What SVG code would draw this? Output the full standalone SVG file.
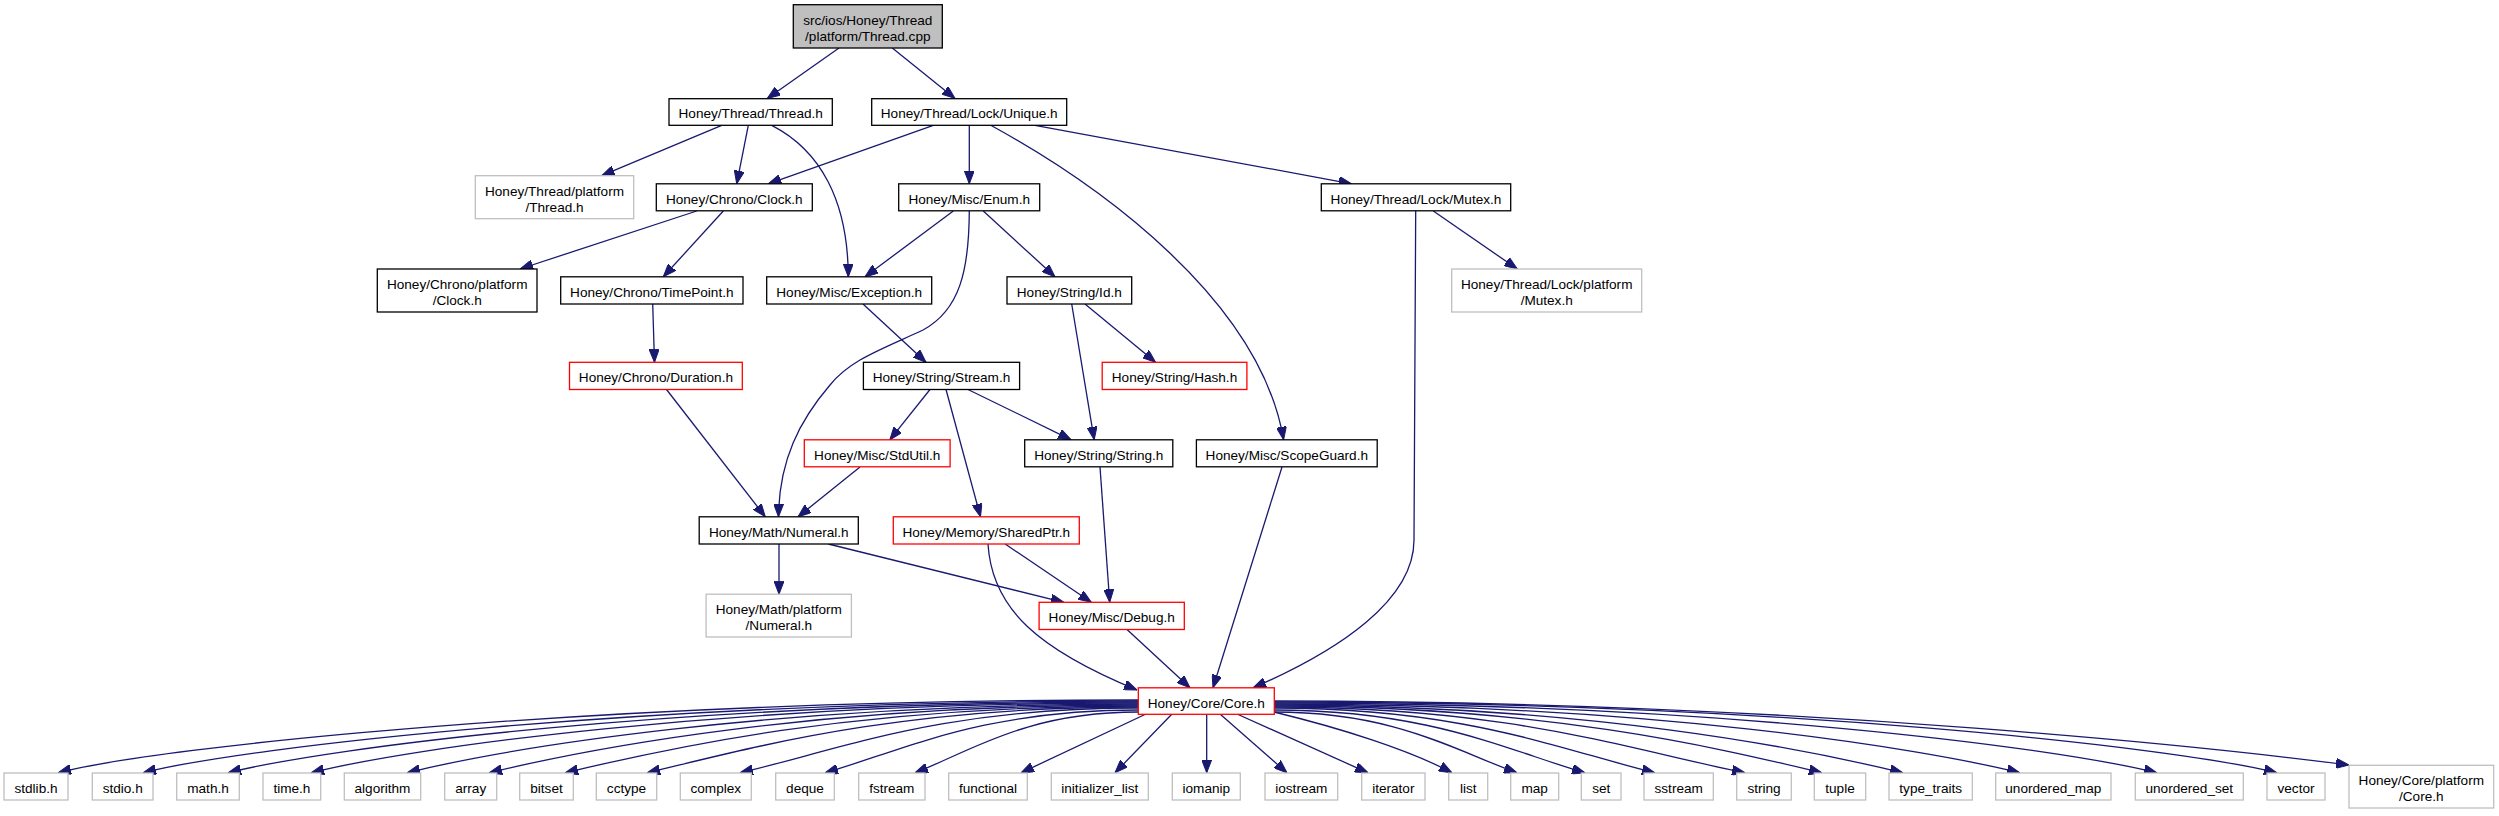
<svg xmlns="http://www.w3.org/2000/svg" width="2499" height="816" viewBox="0 0 2499 816">
<style>
text{font-family:"Liberation Sans",Arial,Helvetica,sans-serif;font-size:13.6px;text-anchor:middle;fill:#000}
.n rect{fill:#fff;stroke:#000;stroke-width:1.3}
.r rect{stroke:#ff0000}
.g rect{stroke:#bfbfbf}
.root rect{fill:#bfbfbf}
#edges path{fill:none;stroke:#191970;stroke-width:1.3;marker-end:url(#ah)}
</style>
<defs>
<marker id="ah" markerUnits="userSpaceOnUse" markerWidth="13" markerHeight="10" viewBox="0 0 13 10" refX="13" refY="5" orient="auto"><path d="M0,0 L13,5 L0,10 z" fill="#191970" stroke="#191970" stroke-width="1"/></marker>
</defs>
<rect width="2499" height="816" fill="#fff"/>
<g id="edges">
<path d="M839,48 L767.3,98.5"/>
<path d="M892.3,48 L955,98.5"/>
<path d="M721.7,125.3 L601.7,175.7"/>
<path d="M748.3,125.3 L736.7,183.8"/>
<path d="M771.7,125.3 C820,150 848,200 848.3,276.8"/>
<path d="M933.3,125.3 L768.3,183.8"/>
<path d="M969.3,125.3 L969.3,183.8"/>
<path d="M990.7,125.3 C1100,185 1260,300 1283.6,439.8"/>
<path d="M1035,125.3 L1351.7,183.8"/>
<path d="M696.7,211 L520,269"/>
<path d="M723.3,211 L663.3,276.8"/>
<path d="M953.3,211 L865,276.8"/>
<path d="M983.3,211 L1055,276.8"/>
<path d="M969.3,211 C969,270 960,310 923,330 C880,350 850,360 830,385 C800,420 779,460 778.5,516.8"/>
<path d="M863,304 L926,362.3"/>
<path d="M1071.7,304 L1094.2,439.8"/>
<path d="M1085,304 L1155.6,362.3"/>
<path d="M652.7,304 L654.5,362.3"/>
<path d="M666.5,389.5 L765.3,516.8"/>
<path d="M930,389.5 L889.8,439.8"/>
<path d="M946,389.5 L980.5,516.8"/>
<path d="M968,389.5 L1071.2,439.8"/>
<path d="M860,467 L798,516.8"/>
<path d="M779,544 L779,594.2"/>
<path d="M828.4,544 L1063.8,602.3"/>
<path d="M1005.2,544 L1091.3,602.3"/>
<path d="M988,544 C992,610 1040,650 1137,690"/>
<path d="M1100,467 L1109.7,602.3"/>
<path d="M1127,629.5 L1190,687.8"/>
<path d="M1282,467 L1213,687.8"/>
<path d="M1415.7,211 L1414,540 C1414,600 1340,650 1253.2,687.8"/>
<path d="M1433.3,211 L1517.3,269"/>
<path d="M1138,700 C598,700 158,746.8 58,772.8"/>
<path d="M1138,701 C640.5,701 243,747.2 143,772.8"/>
<path d="M1138,702 C683,702 328,747.5 228,772.8"/>
<path d="M1138,703 C724.5,703 411,747.9 311,772.8"/>
<path d="M1138,704 C772.5,704 507,748.2 407,772.8"/>
<path d="M1138,705 C813.5,705 589,748.6 489,772.8"/>
<path d="M1138,706 C851.5,706 665,748.9 565,772.8"/>
<path d="M1138,707 C892.5,707 747,749.3 647,772.8"/>
<path d="M1138,708 C939,708 840,749.6 740,772.8"/>
<path d="M1138,710 C981.5,710 903.3,750.3 825,772.8"/>
<path d="M1138,712 C1026.5,712 970.8,751 915,772.8"/>
<path d="M1146,714 L1021,772.8"/>
<path d="M1172,714 L1115,772.8"/>
<path d="M1206.7,714 L1206.7,772.8"/>
<path d="M1220,714 L1287,772.8"/>
<path d="M1237,714 L1368,772.8"/>
<path d="M1274,712 C1340,728 1410,750 1452,772.8"/>
<path d="M1274,712 C1395.5,712 1456.3,751 1517,772.8"/>
<path d="M1274,710 C1429.5,710 1507.3,750.3 1585,772.8"/>
<path d="M1274,708 C1464.5,708 1559.8,749.6 1655,772.8"/>
<path d="M1274,707 C1509.5,707 1627.3,749.3 1745,772.8"/>
<path d="M1274,706 C1548,706 1722,748.9 1822,772.8"/>
<path d="M1274,705 C1588.5,705 1803,748.6 1903,772.8"/>
<path d="M1274,704 C1647,704 1920,748.2 2020,772.8"/>
<path d="M1274,703 C1715.5,703 2057,747.9 2157,772.8"/>
<path d="M1274,702 C1775.5,702 2177,747.5 2277,772.8"/>
<path d="M1274,701 C1811,701 2248,752 2349,765"/>
</g>
<g id="n_root" class="n root"><rect x="793.3" y="4.7" width="149" height="43.3"/><text x="867.8" y="24.5">src/ios/Honey/Thread</text><text x="867.8" y="40.5">/platform/Thread.cpp</text></g>
<g id="n_thread" class="n"><rect x="669" y="98.7" width="163.3" height="26.6"/><text x="750.7" y="118.3">Honey/Thread/Thread.h</text></g>
<g id="n_unique" class="n"><rect x="871.7" y="98.7" width="195" height="26.6"/><text x="969.2" y="118.3">Honey/Thread/Lock/Unique.h</text></g>
<g id="n_pthread" class="n g"><rect x="475.3" y="175.7" width="158.4" height="43"/><text x="554.5" y="195.5">Honey/Thread/platform</text><text x="554.5" y="211.5">/Thread.h</text></g>
<g id="n_clock" class="n"><rect x="656.3" y="183.8" width="156" height="27"/><text x="734.3" y="203.5">Honey/Chrono/Clock.h</text></g>
<g id="n_enum" class="n"><rect x="898.7" y="183.8" width="141" height="27"/><text x="969.2" y="203.5">Honey/Misc/Enum.h</text></g>
<g id="n_mutex" class="n"><rect x="1321.3" y="183.8" width="189.4" height="27"/><text x="1416" y="203.5">Honey/Thread/Lock/Mutex.h</text></g>
<g id="n_pclock" class="n"><rect x="377.3" y="269" width="159.7" height="43"/><text x="457.2" y="288.5">Honey/Chrono/platform</text><text x="457.2" y="304.5">/Clock.h</text></g>
<g id="n_timepoint" class="n"><rect x="560.7" y="276.8" width="182.3" height="27.2"/><text x="651.8" y="296.5">Honey/Chrono/TimePoint.h</text></g>
<g id="n_exception" class="n"><rect x="766.7" y="276.8" width="165" height="27.2"/><text x="849.2" y="296.5">Honey/Misc/Exception.h</text></g>
<g id="n_id" class="n"><rect x="1007" y="276.8" width="124.7" height="27.2"/><text x="1069.3" y="296.5">Honey/String/Id.h</text></g>
<g id="n_pmutex" class="n g"><rect x="1451.7" y="269" width="190" height="43"/><text x="1546.7" y="288.5">Honey/Thread/Lock/platform</text><text x="1546.7" y="304.5">/Mutex.h</text></g>
<g id="n_duration" class="n r"><rect x="569.5" y="362.3" width="172.8" height="27.2"/><text x="655.9" y="382">Honey/Chrono/Duration.h</text></g>
<g id="n_stream" class="n"><rect x="863.4" y="362.3" width="156.2" height="27.2"/><text x="941.5" y="382">Honey/String/Stream.h</text></g>
<g id="n_hash" class="n r"><rect x="1102.2" y="362.3" width="144.7" height="27.2"/><text x="1174.5" y="382">Honey/String/Hash.h</text></g>
<g id="n_stdutil" class="n r"><rect x="804.3" y="439.8" width="145.8" height="27"/><text x="877.2" y="459.5">Honey/Misc/StdUtil.h</text></g>
<g id="n_string" class="n"><rect x="1024.7" y="439.8" width="148.1" height="27"/><text x="1098.8" y="459.5">Honey/String/String.h</text></g>
<g id="n_scopeguard" class="n"><rect x="1196.4" y="439.8" width="180.8" height="27"/><text x="1286.8" y="459.5">Honey/Misc/ScopeGuard.h</text></g>
<g id="n_numeral" class="n"><rect x="699.2" y="516.8" width="159.1" height="27.2"/><text x="778.8" y="536.5">Honey/Math/Numeral.h</text></g>
<g id="n_sharedptr" class="n r"><rect x="893.3" y="516.8" width="186" height="27.2"/><text x="986.3" y="536.5">Honey/Memory/SharedPtr.h</text></g>
<g id="n_pnumeral" class="n g"><rect x="706.1" y="594.2" width="145.3" height="42.8"/><text x="778.8" y="613.8">Honey/Math/platform</text><text x="778.8" y="629.8">/Numeral.h</text></g>
<g id="n_debug" class="n r"><rect x="1039.1" y="602.3" width="145.2" height="27.2"/><text x="1111.7" y="622">Honey/Misc/Debug.h</text></g>
<g id="n_core" class="n r"><rect x="1138.3" y="687.8" width="136" height="26.5"/><text x="1206.3" y="707.5">Honey/Core/Core.h</text></g>
<g id="n_stdlib" class="n g"><rect x="4" y="773" width="64" height="27"/><text x="36" y="792.5">stdlib.h</text></g>
<g id="n_stdio" class="n g"><rect x="92.3" y="773" width="60.7" height="27"/><text x="122.7" y="792.5">stdio.h</text></g>
<g id="n_math" class="n g"><rect x="176.7" y="773" width="62.6" height="27"/><text x="208" y="792.5">math.h</text></g>
<g id="n_time" class="n g"><rect x="263" y="773" width="57.7" height="27"/><text x="291.9" y="792.5">time.h</text></g>
<g id="n_algorithm" class="n g"><rect x="344.3" y="773" width="76.4" height="27"/><text x="382.5" y="792.5">algorithm</text></g>
<g id="n_array" class="n g"><rect x="444.7" y="773" width="52" height="27"/><text x="470.7" y="792.5">array</text></g>
<g id="n_bitset" class="n g"><rect x="519.7" y="773" width="53.6" height="27"/><text x="546.5" y="792.5">bitset</text></g>
<g id="n_cctype" class="n g"><rect x="596.3" y="773" width="60.4" height="27"/><text x="626.5" y="792.5">cctype</text></g>
<g id="n_complex" class="n g"><rect x="680.3" y="773" width="71" height="27"/><text x="715.8" y="792.5">complex</text></g>
<g id="n_deque" class="n g"><rect x="775.7" y="773" width="58.6" height="27"/><text x="805" y="792.5">deque</text></g>
<g id="n_fstream" class="n g"><rect x="858.7" y="773" width="66.3" height="27"/><text x="891.8" y="792.5">fstream</text></g>
<g id="n_functional" class="n g"><rect x="948.7" y="773" width="78.6" height="27"/><text x="988" y="792.5">functional</text></g>
<g id="n_initlist" class="n g"><rect x="1051.3" y="773" width="97" height="27"/><text x="1099.8" y="792.5">initializer_list</text></g>
<g id="n_iomanip" class="n g"><rect x="1172.3" y="773" width="68" height="27"/><text x="1206.3" y="792.5">iomanip</text></g>
<g id="n_iostream" class="n g"><rect x="1265" y="773" width="72.7" height="27"/><text x="1301.3" y="792.5">iostream</text></g>
<g id="n_iterator" class="n g"><rect x="1361.7" y="773" width="63.3" height="27"/><text x="1393.3" y="792.5">iterator</text></g>
<g id="n_list" class="n g"><rect x="1448.7" y="773" width="39" height="27"/><text x="1468.2" y="792.5">list</text></g>
<g id="n_map" class="n g"><rect x="1510.7" y="773" width="48" height="27"/><text x="1534.7" y="792.5">map</text></g>
<g id="n_set" class="n g"><rect x="1581.3" y="773" width="39.7" height="27"/><text x="1601.2" y="792.5">set</text></g>
<g id="n_sstream" class="n g"><rect x="1644" y="773" width="69.3" height="27"/><text x="1678.7" y="792.5">sstream</text></g>
<g id="n_string2" class="n g"><rect x="1736.7" y="773" width="54.6" height="27"/><text x="1764" y="792.5">string</text></g>
<g id="n_tuple" class="n g"><rect x="1814.3" y="773" width="51.4" height="27"/><text x="1840" y="792.5">tuple</text></g>
<g id="n_typetraits" class="n g"><rect x="1889" y="773" width="83.3" height="27"/><text x="1930.7" y="792.5">type_traits</text></g>
<g id="n_umap" class="n g"><rect x="1995.7" y="773" width="115.3" height="27"/><text x="2053.3" y="792.5">unordered_map</text></g>
<g id="n_uset" class="n g"><rect x="2135.3" y="773" width="108" height="27"/><text x="2189.3" y="792.5">unordered_set</text></g>
<g id="n_vector" class="n g"><rect x="2267" y="773" width="58" height="27"/><text x="2296" y="792.5">vector</text></g>
<g id="n_pcore" class="n g"><rect x="2349" y="765.3" width="144.7" height="42.7"/><text x="2421.3" y="784.8">Honey/Core/platform</text><text x="2421.3" y="800.8">/Core.h</text></g>
</svg>
